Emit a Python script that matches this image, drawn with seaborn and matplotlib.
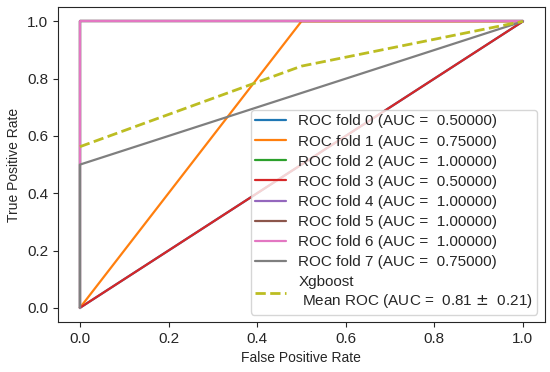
import matplotlib
matplotlib.use("Agg")
import matplotlib.pyplot as plt
import seaborn as sns
import numpy as np

# Per-fold ROC curves (fpr, tpr) and AUCs
fold_fpr = [
    [0.0, 1.0],
    [0.0, 0.5, 1.0],
    [0.0, 0.0, 1.0],
    [0.0, 1.0],
    [0.0, 0.0, 1.0],
    [0.0, 0.0, 1.0],
    [0.0, 0.0, 1.0],
    [0.0, 0.0, 1.0],
]
fold_tpr = [
    [0.0, 1.0],
    [0.0, 1.0, 1.0],
    [0.0, 1.0, 1.0],
    [0.0, 1.0],
    [0.0, 1.0, 1.0],
    [0.0, 1.0, 1.0],
    [0.0, 1.0, 1.0],
    [0.0, 0.5, 1.0],
]
fold_auc = [0.5, 0.75, 1.0, 0.5, 1.0, 1.0, 1.0, 0.75]

mean_fpr = [0.0, 0.5, 1.0]
mean_tpr = [0.5625, 0.84375, 1.0]
mean_auc = 0.81
std_auc = 0.21
model_name = "Xgboost"

sns.set_style("ticks")
plt.rcParams["font.family"] = ["Liberation Sans", "DejaVu Sans"]

fig, ax = plt.subplots(figsize=(5.5, 3.72), dpi=100)
palette = sns.color_palette("tab10")

for i, (fx, fy, a) in enumerate(zip(fold_fpr, fold_tpr, fold_auc)):
    sns.lineplot(x=fx, y=fy, estimator=None, sort=False, ax=ax,
                 color=palette[i], lw=1.6,
                 label="ROC fold %d (AUC =  %0.5f)" % (i, a))

sns.lineplot(x=mean_fpr, y=mean_tpr, estimator=None, sort=False, ax=ax,
             color=palette[8], lw=2, linestyle="--",
             label="%s\n Mean ROC (AUC =  %0.2f $\\pm$  %0.2f)" % (model_name, mean_auc, std_auc))

ax.set_xlabel("False Positive Rate", fontsize=10)
ax.set_ylabel("True Positive Rate", fontsize=10)
ax.tick_params(labelsize=11)
ax.set_xticks([0, 0.2, 0.4, 0.6, 0.8, 1.0])
ax.set_yticks([0, 0.2, 0.4, 0.6, 0.8, 1.0])
ax.legend(loc="lower right", fontsize=11, borderpad=0.3, labelspacing=0.4)

fig.subplots_adjust(left=0.105, right=0.991, bottom=0.134, top=0.981)
fig.savefig("out.png", dpi=100)
